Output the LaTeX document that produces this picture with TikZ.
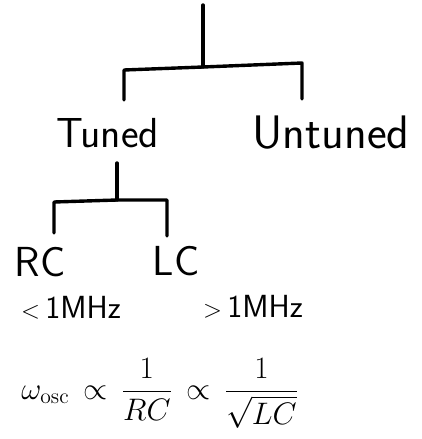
\documentclass[tikz,border=0pt]{standalone}
\usepackage{amsmath}
\begin{document}
\begin{tikzpicture}[x=1pt,y=-1pt,
  wire/.style={line width=3.4pt,line cap=round,line join=round},
  lbl/.style={inner sep=0pt,font=\sffamily\fontsize{42}{48}\selectfont},
  small/.style={inner sep=0pt,font=\sffamily\fontsize{32}{36}\selectfont}]
\useasboundingbox (0,0) rectangle (421,439);
% labels
\node[lbl] (tuned) at (108,133) {Tuned};
\node[lbl,font=\sffamily\fontsize{47}{52}\selectfont] (untuned) at (331,133) {Untuned};
\node[lbl] (rc) at (40,262) {RC};
\node[lbl] (lc) at (176,261) {LC};
\node[small] (rcf) at (71,308) {$<$\,1MHz};
\node[small] (lcf) at (253,307) {$>$\,1MHz};
\node[inner sep=0pt,scale=1.5,font=\fontsize{20}{24}\selectfont] (eq) at (160,393)
  {$\displaystyle \omega_{\mathrm{osc}}\,\propto\,\frac{1}{RC}\,\propto\,\frac{1}{\sqrt{LC}}$};
% tree coordinates
\coordinate (root) at (203,5);
\coordinate (j1) at (203,67);
\coordinate (t1) at (124,100);
\coordinate (u1) at (302,99);
\coordinate (s1) at (117,163);
\coordinate (j2) at (117,200);
\coordinate (r1) at (54,233);
\coordinate (l1) at (167,236);
% connectors
\draw[wire] (root) -- (j1);
\draw[wire] (t1) -- (124,70) -- (j1) -- (302,63) -- (u1);
\draw[wire] (s1) -- (j2);
\draw[wire] (r1) -- (54,202) -- (j2) -- (167,200) -- (l1);
\end{tikzpicture}
\end{document}
